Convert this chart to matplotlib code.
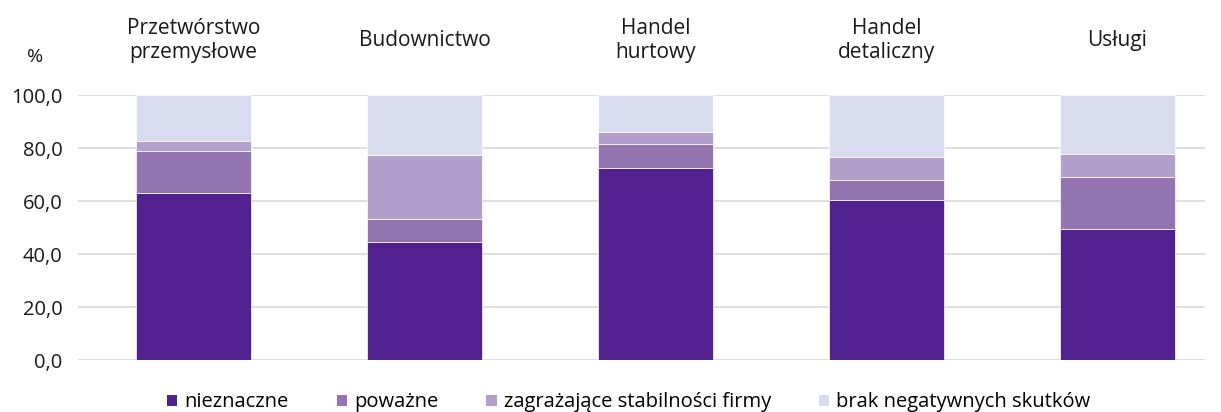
import numpy as np
import matplotlib
matplotlib.use("Agg")
import matplotlib.pyplot as plt
from matplotlib.patches import Patch
from matplotlib.ticker import FuncFormatter

plt.rcParams['font.family'] = ['Open Sans', 'DejaVu Sans']

# dane (%)
kategorie = ["Przetwórstwo\nprzemysłowe", "Budownictwo", "Handel\nhurtowy",
             "Handel\ndetaliczny", "Usługi"]
nieznaczne = [63.0, 44.6, 72.6, 60.5, 49.4]
powazne = [16.0, 8.5, 9.0, 7.5, 19.8]
zagrazajace = [3.8, 24.1, 4.6, 8.6, 8.5]
brak_skutkow = [17.2, 22.8, 13.8, 23.4, 22.3]

serie = ["nieznaczne", "poważne", "zagrażające stabilności firmy", "brak negatywnych skutków"]
kolory = ["#51218F", "#9275B0", "#B39FCC", "#D9DBEF"]

fig = plt.figure(figsize=(12.21, 4.12), dpi=100)
ax = fig.add_axes([0.0639, 0.1262, 0.923, 0.6432])

x = np.arange(len(kategorie))
dol = np.zeros(len(kategorie))
for wart, kol in zip([nieznaczne, powazne, zagrazajace, brak_skutkow], kolory):
    ax.bar(x, wart, bottom=dol, width=0.5, color=kol, edgecolor="white",
           linewidth=0.5, zorder=3)
    dol += np.array(wart)

ax.set_ylim(0, 100)
ax.set_xlim(-0.5, 4.38)
ax.set_yticks(np.arange(0, 101, 20))
ax.yaxis.set_major_formatter(FuncFormatter(lambda v, p: f"{v:.1f}".replace(".", ",")))
ax.tick_params(axis="y", length=0, labelsize=14.5, pad=11, labelcolor="#1a1a1a")
ax.set_xticks([])
ax.grid(axis="y", color="#D9D9D9", linewidth=1.2, zorder=0)
for s in ax.spines.values():
    s.set_visible(False)

trans = ax.get_xaxis_transform()
for xi, kat in zip(x, kategorie):
    ax.text(xi, 1.205, kat, transform=trans, ha="center", va="center",
            fontsize=15, color="#1a1a1a", linespacing=1.2)
fig.text(0.0287, 0.862, "%", ha="center", va="center",
         fontsize=14, color="#1a1a1a")

uchwyty = [Patch(facecolor=k, edgecolor="none") for k in kolory]
fig.legend(uchwyty, serie, loc="lower center", ncol=4, frameon=False,
           fontsize=14.5, handlelength=0.5, handleheight=0.5,
           handletextpad=0.35, columnspacing=2.4, bbox_to_anchor=(0.515, -0.045))

fig.savefig("out.png", dpi=100)
